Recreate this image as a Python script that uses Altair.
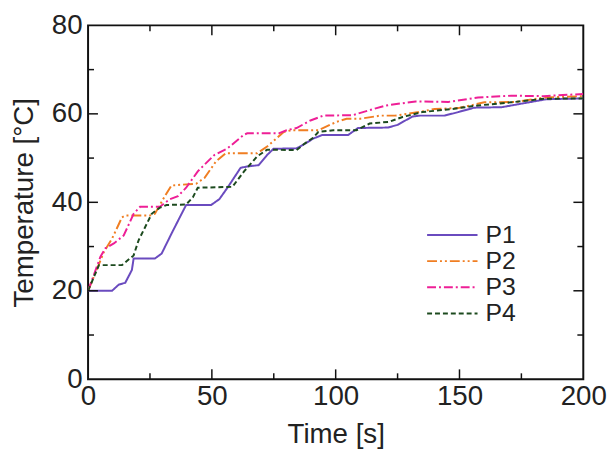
import altair as alt
import pandas as pd

# ---- data ----
p1_t = [0, 9.7, 12.4, 15, 17.7, 18.4, 27, 29.7, 34.3, 39.6, 49.7, 53, 56.3, 61.6, 64.3, 68.9, 72.3, 74.9,
        84.2, 87.5, 90.9, 94.5, 105, 109, 121, 125, 131, 134, 144, 149.5, 156, 167, 174, 185, 200]
p1_v = [20, 20, 21.4, 21.8, 24.7, 27.3, 27.3, 28.4, 33.6, 39.4, 39.4, 40.7, 43.3, 47.8, 48.1, 48.4, 50.7, 52.1,
        52.2, 53.2, 54.4, 55.2, 55.2, 56.8, 56.9, 57.5, 59.4, 59.6, 59.6, 60.4, 61.4, 61.5, 62.2, 63.3, 63.5]

p2_t = [0, 4.4, 6.4, 9.7, 13.7, 15, 25, 27, 31, 33.7, 38.3, 43.6, 47, 51.6, 55.6, 68.3, 72.3, 79, 82.2,
        93, 100.4, 104.4, 110, 118, 124, 133.6, 140, 149.5, 160, 173, 184, 200]
p2_v = [20, 26, 28.8, 31.8, 36.6, 37, 37, 37.4, 41.4, 43.8, 44, 44.2, 45.5, 49.2, 51.1, 51.1, 52.6, 55.9, 56.3,
        56.3, 58.2, 58.9, 58.9, 59.6, 59.6, 60.4, 61.1, 61.3, 62.6, 62.7, 63.7, 64]

p3_t = [0, 5, 7, 10.4, 14.4, 18.4, 21, 29, 33, 36.3, 39.6, 44.3, 51, 56.3, 63, 64.3, 77, 80.2, 84.2,
        89.8, 95, 107, 111, 120.3, 132.3, 145.5, 157.5, 170.8, 184, 200]
p3_v = [20, 27.7, 29.6, 30.7, 32.5, 37.4, 39, 39, 40.7, 41.4, 43.3, 47, 50.7, 52.2, 55.3, 55.6, 55.6, 56.3, 56.8,
        58.5, 59.6, 59.7, 60.4, 61.9, 62.8, 62.7, 63.7, 64.1, 64, 64.5]

p4_t = [0, 4.4, 13.7, 18.4, 20.4, 25.7, 29, 31.7, 39.6, 42.3, 44.3, 58.3, 63, 68.3, 72.3, 84.2, 87.5, 90.9,
        93, 99, 108.4, 113.7, 121.6, 127, 135, 147, 157.5, 170.8, 184, 200]
p4_v = [20, 25.8, 25.8, 28, 31.4, 37.4, 38.8, 39.4, 39.5, 41.1, 43.3, 43.5, 47, 50.4, 51.9, 51.8, 53.3, 54.6,
        55.9, 56.3, 56.3, 57.8, 58.2, 59.3, 60.4, 61.1, 61.9, 62.6, 63.4, 63.5]

series = ["P1", "P2", "P3", "P4"]
colors = ["#6a4bbf", "#f07e22", "#ee1f96", "#1c4a1e"]
dashes = [[1, 0], [10, 3, 2, 3, 2, 3], [9, 3, 2, 3], [5, 3]]

x_major = [50, 100, 150]
x_minor = [25, 75, 125, 175]
y_major = [20, 40, 60]
y_minor = [10, 30, 50, 70]
x_labels = [0, 50, 100, 150, 200]
y_labels = [0, 20, 40, 60, 80]

W, H = 501, 358
FONT = "Liberation Sans"

rows = []
for name, ts, vs in zip(series, [p1_t, p2_t, p3_t, p4_t], [p1_v, p2_v, p3_v, p4_v]):
    for i, (t, v) in enumerate(zip(ts, vs)):
        rows.append({"series": name, "t": t, "T": v, "i": i})
df = pd.DataFrame(rows)

xs = alt.Scale(domain=[0, 200], nice=False, zero=False)
ys = alt.Scale(domain=[0, 80], nice=False, zero=False)


def legend():
    return alt.Legend(title=None, orient="none", legendX=342, legendY=200,
                      symbolType="stroke", symbolSize=2600, symbolStrokeWidth=2,
                      labelFontSize=25, labelFont=FONT, labelColor="#222",
                      labelOffset=7, clipHeight=24, rowPadding=1.5, padding=0)


lines = alt.Chart(df).mark_line(strokeWidth=2, clip=True).encode(
    x=alt.X("t:Q", scale=xs,
            axis=alt.Axis(title="Time [s]", values=x_labels, format="d", grid=False, ticks=False,
                          domain=False, labelFontSize=28, titleFontSize=28, labelFont=FONT, titleFont=FONT,
                          labelColor="#222", titleColor="#222", titleFontWeight="normal",
                          labelPadding=4, titlePadding=10, labelOverlap=False, labelFlush=False)),
    y=alt.Y("T:Q", scale=ys,
            axis=alt.Axis(title="Temperature [°C]", values=y_labels, format="d", grid=False, ticks=False,
                          domain=False, labelFontSize=28, titleFontSize=28, labelFont=FONT, titleFont=FONT,
                          labelColor="#222", titleColor="#222", titleFontWeight="normal",
                          labelPadding=6, titlePadding=13, labelOverlap=False, labelFlush=False)),
    color=alt.Color("series:N", scale=alt.Scale(domain=series, range=colors), legend=legend()),
    strokeDash=alt.StrokeDash("series:N", scale=alt.Scale(domain=series, range=dashes), legend=legend()),
    order="i:Q",
)


def xticks(vals, length):
    d = pd.DataFrame({"t": vals})
    bottom = alt.Chart(d).mark_rule(color="#111", strokeWidth=1.5).encode(
        x=alt.X("t:Q", scale=xs), y=alt.value(H), y2=alt.value(H - length))
    top = alt.Chart(d).mark_rule(color="#111", strokeWidth=1.5).encode(
        x=alt.X("t:Q", scale=xs), y=alt.value(0), y2=alt.value(length))
    return [bottom, top]


def yticks(vals, length):
    d = pd.DataFrame({"T": vals})
    left = alt.Chart(d).mark_rule(color="#111", strokeWidth=1.5).encode(
        y=alt.Y("T:Q", scale=ys), x=alt.value(0), x2=alt.value(length))
    right = alt.Chart(d).mark_rule(color="#111", strokeWidth=1.5).encode(
        y=alt.Y("T:Q", scale=ys), x=alt.value(W), x2=alt.value(W - length))
    return [left, right]


layers = [lines] + xticks(x_major, 10) + xticks(x_minor, 6) + yticks(y_major, 10) + yticks(y_minor, 6)

chart = alt.layer(*layers).properties(
    width=W, height=H,
    padding={"left": 81, "top": 15, "right": 25, "bottom": 70},
    autosize=alt.AutoSizeParams(type="none"),
    background="white",
).configure_view(stroke="#111", strokeWidth=2)

chart.save("out.html", embed_options={"renderer": "svg", "actions": False})
